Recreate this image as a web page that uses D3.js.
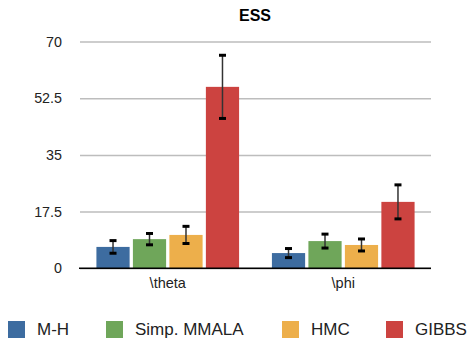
<!DOCTYPE html>
<html><head><meta charset="utf-8">
<script src="https://cdn.jsdelivr.net/npm/d3@7"></script>
<style>body{margin:0;background:#fff}svg{display:block}</style>
</head><body>
<svg id="c" width="469" height="338"></svg>
<script>
const categories = ["\\theta", "\\phi"];
const seriesNames = ["M-H", "Simp. MMALA", "HMC", "GIBBS"];
const seriesColors = ["#3d6ca0", "#6fa65a", "#edaf4b", "#cc4340"];
const values = {
  "M-H": [6.6, 4.7],
  "Simp. MMALA": [9.0, 8.4],
  "HMC": [10.3, 7.2],
  "GIBBS": [56.0, 20.5]
};
const errors = {
  "M-H": [1.95, 1.4],
  "Simp. MMALA": [1.75, 2.15],
  "HMC": [2.65, 1.85],
  "GIBBS": [9.75, 5.25]
};
const yTicks = [0, 17.5, 35, 52.5, 70];
const title = "ESS";

(function () {
const svg = d3.select("#c");
const font = "'Liberation Sans', Arial, Helvetica, sans-serif";
const mLeft = 80, mRight = 431, mTop = 41.5, mBottom = 268.3;

const x0 = d3.scaleBand().domain(categories).range([mLeft, mRight]).paddingInner(0).paddingOuter(0);
const x1 = d3.scaleBand().domain(seriesNames).range([0, x0.bandwidth()]).paddingInner(0.09).paddingOuter(0.45);
const y = d3.scaleLinear().domain([0, 70]).range([mBottom, mTop]);

svg.append("text").attr("x", 255).attr("y", 21).attr("text-anchor", "middle")
  .attr("font-family", font).attr("font-weight", "bold").attr("font-size", 16).text(title);

const yAxis = svg.append("g").attr("transform", `translate(${mLeft},0)`)
  .call(d3.axisLeft(y).tickValues(yTicks).tickSize(-(mRight - mLeft)).tickPadding(18).tickFormat(d => String(d)));
yAxis.select(".domain").remove();
yAxis.selectAll(".tick line").attr("stroke", "#bdbdbd").attr("stroke-width", 1.5);
yAxis.selectAll(".tick text").attr("font-family", font).attr("font-size", 14.3).attr("fill", "#222");

const g = svg.append("g");
categories.forEach((c, ci) => {
  seriesNames.forEach((s, si) => {
    const bx = x0(c) + x1(s);
    const v = values[s][ci];
    g.append("rect").attr("x", bx).attr("y", y(v)).attr("width", x1.bandwidth()).attr("height", y(0) - y(v))
      .attr("fill", seriesColors[si]);
  });
});
categories.forEach((c, ci) => {
  seriesNames.forEach((s, si) => {
    const cx = x0(c) + x1(s) + x1.bandwidth() / 2;
    const v = values[s][ci], e = errors[s][ci];
    g.append("line").attr("x1", cx).attr("x2", cx).attr("y1", y(v + e)).attr("y2", y(v - e))
      .attr("stroke", "#333").attr("stroke-width", 1.5);
    [v + e, v - e].forEach(t => {
      g.append("line").attr("x1", cx - 3.5).attr("x2", cx + 3.5).attr("y1", y(t)).attr("y2", y(t))
        .attr("stroke", "#000").attr("stroke-width", 3);
    });
  });
});

const xAxis = svg.append("g").attr("transform", `translate(0,${mBottom})`)
  .call(d3.axisBottom(x0).tickSize(0).tickPadding(9.5));
xAxis.select(".domain").attr("stroke", "#000").attr("stroke-width", 1.5).attr("d", `M${mLeft - 1},0H${mRight}`);
xAxis.selectAll(".tick text").attr("font-family", font).attr("font-size", 14.5).attr("fill", "#222");

const legendX = [8, 106, 282, 386];
const leg = svg.append("g");
seriesNames.forEach((s, i) => {
  leg.append("rect").attr("x", legendX[i]).attr("y", 321).attr("width", 17).attr("height", 17).attr("fill", seriesColors[i]);
  leg.append("text").attr("x", legendX[i] + 29).attr("y", 335).attr("font-family", font).attr("font-size", 17)
    .attr("fill", "#222").text(s);
});
})();
</script>
</body></html>
